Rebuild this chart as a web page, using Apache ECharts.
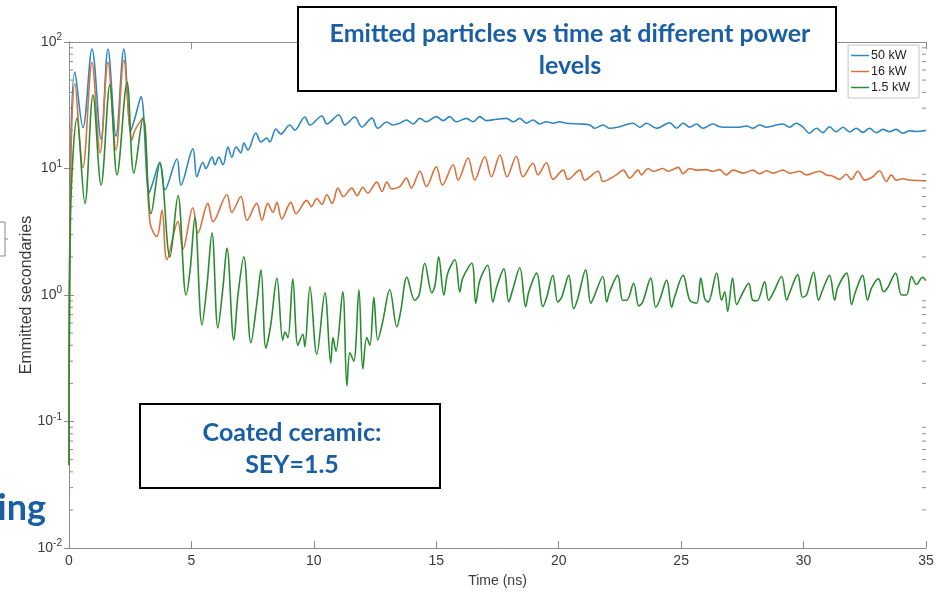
<!DOCTYPE html>
<html>
<head>
  <meta charset="utf-8">
  <title>Emitted particles vs time</title>
  <script src="https://cdn.jsdelivr.net/npm/echarts@6.0.0/dist/echarts.min.js"></script>
  <style>
    html, body { margin: 0; padding: 0; background: #fff; }
    #main { width: 937px; height: 596px; }
  </style>
</head>
<body>
  <div id="main"></div>
  <script>
    // series names (legend)
    const seriesNames = ['50 kW', '16 kW', '1.5 kW'];

    // [time (ns), emitted secondaries], peaks and troughs
    const kw50 = [
      [0,0.045],[0.05,8],[0.24,58],[0.57,21],[0.94,88],[1.31,17],[1.59,88],[1.92,18],[2.24,88],[2.53,20],
      [2.69,25],[2.94,37],[3.27,6.4],[3.43,7.8],[3.71,11.2],[3.92,6.8],[4.41,11.9],[4.57,7.4],[5.06,14.3],[5.22,8.6],
      [5.47,11.2],[5.59,10.0],[5.84,12.3],[5.96,10.7],[6.12,12.3],[6.29,10.7],[6.49,14.8],[6.65,12.3],[6.82,14.8],[7.02,13.3],
      [7.14,15.9],[7.31,14.0],[7.63,19.1],[7.84,16.2],[8.08,17.4],[8.2,16.2],[8.45,20.5],[8.65,18.7],[9.02,22.1],[9.22,20.1],
      [9.63,25.5],[9.84,22.1],[10.33,26.0],[10.53,22.5],[11.02,26.5],[11.27,22.1],[11.67,25.5],[11.96,21.3],[12.37,25.0],[12.61,20.8],
      [12.98,23.3],[13.22,22.1],[13.51,22.8],[13.78,24.2],[14.05,22.5],[14.33,24.9],[14.6,23.4],[15.0,25.7],[15.28,23.9],[15.55,25.7],
      [15.82,23.4],[16.23,24.9],[16.5,23.4],[16.78,25.7],[17.05,23.9],[17.46,24.5],[17.87,24.9],[18.14,23.4],[18.41,24.9],[18.68,22.8],
      [18.95,24.2],[19.22,22.5],[19.5,23.4],[19.77,22.8],[20.04,23.4],[20.31,22.8],[20.86,22.5],[21.27,22.1],[21.47,20.8],[21.81,22.1],
      [22.08,20.8],[22.49,21.4],[23.03,22.8],[23.31,21.2],[23.58,22.8],[23.99,20.8],[24.53,23.0],[24.81,20.8],[25.08,22.8],[25.35,21.2],
      [25.62,22.5],[25.89,20.8],[26.3,22.5],[26.57,21.4],[26.98,21.2],[27.39,21.2],[27.66,21.7],[27.93,20.8],[28.2,22.1],[28.48,21.2],
      [28.75,21.7],[29.16,22.5],[29.43,21.2],[29.7,22.8],[29.98,21.2],[30.24,19.0],[30.52,20.8],[30.79,19.2],[31.06,21.4],[31.33,19.5],
      [31.61,21.2],[31.88,19.5],[32.15,20.8],[32.42,19.3],[32.69,20.8],[32.97,19.2],[33.24,20.4],[33.51,19.5],[33.78,20.4],[34.06,19.0],
      [34.33,19.9],[34.6,19.6],[35,20.0]
    ];

    const kw16 = [
      [0,0.045],[0.05,6],[0.24,47],[0.57,10.2],[0.94,69],[1.27,13.3],[1.59,69],[1.92,14],[2.24,72],[2.57,16.8],
      [2.69,20],[3.02,25],[3.31,3.7],[3.59,2.9],[3.8,4.7],[4.0,1.9],[4.45,3.8],[4.65,2.3],[5.06,4.9],[5.27,3.1],
      [5.67,5.3],[5.88,3.8],[6.45,6.2],[6.65,4.5],[7.02,6.0],[7.27,3.9],[7.67,5.3],[7.88,3.9],[8.12,5.3],[8.33,4.5],
      [8.49,5.4],[8.69,4.0],[9.06,5.4],[9.27,4.4],[9.71,5.6],[9.9,5.0],[10.12,5.8],[10.33,5.2],[10.53,6.2],[10.75,5.3],
      [10.98,7.0],[11.2,6.0],[11.55,7.0],[11.76,6.1],[12.0,7.1],[12.2,6.4],[12.57,7.8],[12.78,6.6],[12.98,7.8],[13.18,6.9],
      [13.51,7.2],[13.78,8.4],[13.98,7.0],[14.33,9.5],[14.6,7.2],[15.0,10.3],[15.25,7.4],[15.69,10.7],[15.89,8.1],[16.3,12.1],
      [16.57,8.1],[16.98,12.4],[17.25,8.6],[17.6,12.8],[17.89,8.6],[18.27,12.5],[18.54,8.6],[18.95,11.0],[19.15,8.9],[19.5,11.1],
      [19.77,8.2],[20.18,9.7],[20.38,8.2],[20.86,9.7],[21.06,8.1],[21.61,9.5],[21.81,7.9],[22.35,8.9],[22.63,9.7],[22.9,8.4],
      [23.24,9.7],[23.38,8.9],[23.65,10.0],[23.86,9.5],[24.26,10.0],[24.47,9.5],[24.88,10.2],[25.08,9.1],[25.35,10.0],[25.62,9.7],
      [26.03,9.8],[26.3,9.5],[26.57,9.8],[26.84,8.9],[27.12,9.7],[27.53,9.2],[27.93,9.7],[28.2,9.1],[28.48,9.6],[28.75,9.2],
      [29.16,9.7],[29.43,9.2],[29.84,9.5],[30.11,8.9],[30.66,9.5],[30.93,8.9],[31.2,8.7],[31.47,8.2],[31.74,9.0],[31.95,8.2],
      [32.22,9.5],[32.5,8.1],[32.83,8.6],[33.1,9.6],[33.38,7.9],[33.58,8.9],[33.78,8.1],[34.06,8.3],[34.33,8.1],[35,8.0]
    ];

    const kw15 = [
      [0,0.045],[0.06,4],[0.33,25],[0.65,5.3],[0.98,38],[1.31,7.4],[1.67,46],[1.96,8.9],[2.37,48],[2.65,9.2],
      [3.02,25],[3.35,4.4],[3.71,11],[4.12,2.0],[4.45,6.1],[4.78,1.0],[4.95,1.6],[5.14,4.1],[5.43,0.58],[5.63,1.16],
      [5.84,3.1],[6.08,0.55],[6.29,1.16],[6.45,2.35],[6.73,0.44],[6.9,1.0],[7.14,2.0],[7.43,0.42],[7.67,0.86],[7.84,1.58],
      [8.04,0.38],[8.24,0.58],[8.49,1.36],[8.73,0.44],[8.82,0.51],[8.94,0.46],[9.14,1.34],[9.35,0.40],[9.55,0.49],[9.63,0.39],
      [9.84,1.16],[10.12,0.34],[10.45,1.04],[10.69,0.29],[10.78,0.46],[10.9,0.36],[11.18,1.06],[11.35,0.19],[11.47,0.35],[11.63,0.30],
      [11.84,1.1],[12.0,0.26],[12.16,0.46],[12.29,0.40],[12.45,0.96],[12.61,0.44],[12.8,0.6],[13.1,1.1],[13.39,0.56],[13.55,0.75],
      [13.8,1.38],[14.12,0.91],[14.3,1.0],[14.53,1.78],[14.82,1.04],[14.95,1.2],[15.1,2.0],[15.31,1.0],[15.47,1.49],[15.76,1.9],
      [15.96,1.06],[16.08,1.36],[16.45,1.78],[16.61,0.86],[16.78,1.31],[17.1,1.72],[17.31,0.88],[17.47,1.16],[17.76,1.61],[17.96,0.88],
      [18.12,1.1],[18.41,1.64],[18.65,0.81],[18.78,1.06],[19.1,1.49],[19.35,0.81],[19.51,0.96],[19.76,1.43],[19.96,0.88],[20.12,0.96],
      [20.41,1.43],[20.61,0.78],[20.78,0.94],[21.1,1.58],[21.31,0.86],[21.47,1.0],[21.8,1.40],[21.96,0.88],[22.08,1.06],[22.41,1.43],
      [22.61,0.91],[22.78,0.91],[23.06,1.24],[23.27,0.82],[23.43,0.88],[23.76,1.36],[23.96,0.80],[24.12,0.91],[24.41,1.31],[24.61,0.80],
      [24.73,0.96],[25.08,1.43],[25.35,0.91],[25.63,0.86],[25.8,1.36],[25.96,0.94],[26.1,0.88],[26.45,1.49],[26.65,0.91],[26.78,1.06],
      [26.9,0.74],[27.1,1.36],[27.27,0.84],[27.47,1.0],[27.76,1.24],[27.92,0.91],[28.1,0.9],[28.41,1.27],[28.57,0.91],[28.78,1.06],
      [29.1,1.40],[29.31,0.91],[29.43,1.04],[29.76,1.45],[29.96,0.96],[30.12,1.0],[30.41,1.52],[30.61,0.91],[30.78,1.1],[31.06,1.43],
      [31.27,0.91],[31.39,1.14],[31.76,1.49],[31.96,0.84],[32.12,1.06],[32.41,1.43],[32.61,0.91],[32.78,1.14],[33.06,1.34],[33.27,1.06],
      [33.43,1.14],[33.76,1.49],[34.0,1.0],[34.2,1.0],[34.41,1.40],[34.61,1.21],[34.86,1.38],[35,1.3]
    ];

    // minor ticks of the log axis (2..9 x each decade)
    const minorTicks = [
      0.02,0.03,0.04,0.05,0.06,0.07,0.08,0.09,
      0.2,0.3,0.4,0.5,0.6,0.7,0.8,0.9,
      2,3,4,5,6,7,8,9,
      20,30,40,50,60,70,80,90
    ];

    const colors = ['#2f87c0', '#d8723f', '#2a8c30'];
    const axisColor = '#8c8c8c';
    const textColor = '#3a3a3a';
    const boxBlue = '#1a5ea3';
    const font = '"Liberation Sans", Arial, sans-serif';
    const boxFont = 'bold 25px Lato, "Open Sans", sans-serif';

    const chart = echarts.init(document.getElementById('main'));

    const supLabel = v => {
      const e = Math.round(Math.log10(v));
      return '{b|10}{s|' + e + '}';
    };

    const option = {
      animation: false,
      backgroundColor: '#fff',
      textStyle: { fontFamily: font },
      grid: { left: 69, right: 11, top: 42, bottom: 48 },
      legend: {
        data: seriesNames,
        orient: 'vertical',
        right: 18,
        top: 45,
        icon: 'rect',
        itemWidth: 18,
        itemHeight: 1.5,
        itemGap: 3,
        padding: [4, 9, 4, 3],
        backgroundColor: '#fff',
        borderColor: '#c4c4c4',
        borderWidth: 1,
        textStyle: { fontSize: 12.5, color: '#222', fontFamily: font, padding: [0, 0, 0, -3] }
      },
      xAxis: [
        {
          type: 'value', min: 0, max: 35, interval: 5,
          name: 'Time (ns)', nameLocation: 'middle', nameGap: 26,
          nameTextStyle: { fontSize: 14, color: textColor, fontFamily: font },
          axisLine: { lineStyle: { color: axisColor } },
          axisTick: { inside: true, length: 7, lineStyle: { color: axisColor } },
          axisLabel: { fontSize: 14, color: textColor, margin: 6, fontFamily: font },
          splitLine: { show: false }
        },
        {
          type: 'value', min: 0, max: 35, interval: 5, position: 'top',
          axisLine: { lineStyle: { color: axisColor } },
          axisTick: { inside: true, length: 7, lineStyle: { color: axisColor } },
          axisLabel: { show: false },
          splitLine: { show: false }
        }
      ],
      yAxis: [
        {
          type: 'log', logBase: 10, min: 0.01, max: 100,
          name: 'Emmitted secondaries', nameLocation: 'middle', nameGap: 34,
          nameMoveOverlap: false,
          nameTextStyle: { fontSize: 16, color: textColor, fontFamily: font },
          axisLine: { show: true, lineStyle: { color: axisColor } },
          axisTick: { inside: true, length: 5, lineStyle: { color: axisColor } },
          axisLabel: {
            margin: 7,
            formatter: supLabel,
            rich: {
              b: { fontSize: 14, color: textColor, fontFamily: font },
              s: { fontSize: 10, color: textColor, fontFamily: font, padding: [0, 0, 9, 0] }
            }
          },
          splitLine: { show: false }
        },
        {
          type: 'log', logBase: 10, min: 0.01, max: 100, position: 'right',
          axisLine: { show: true, lineStyle: { color: axisColor } },
          axisTick: { inside: true, length: 5, lineStyle: { color: axisColor } },
          axisLabel: { show: false },
          splitLine: { show: false }
        }
      ],
      graphic: [
        {
          type: 'rect', z: 100,
          shape: { x: 298, y: 7, width: 538, height: 84 },
          style: { fill: '#fff', stroke: '#000', lineWidth: 2 }
        },
        {
          type: 'text', z: 101, x: 570, y: 34,
          style: { text: 'Emitted particles vs time at different power', font: boxFont, fill: boxBlue, align: 'center', verticalAlign: 'middle' }
        },
        {
          type: 'text', z: 101, x: 570, y: 66,
          style: { text: 'levels', font: boxFont, fill: boxBlue, align: 'center', verticalAlign: 'middle' }
        },
        {
          type: 'rect', z: 100,
          shape: { x: 140, y: 404, width: 300, height: 84 },
          style: { fill: '#fff', stroke: '#000', lineWidth: 2 }
        },
        {
          type: 'text', z: 101, x: 292, y: 433,
          style: { text: 'Coated ceramic:', font: boxFont, fill: boxBlue, align: 'center', verticalAlign: 'middle' }
        },
        {
          type: 'text', z: 101, x: 292, y: 465,
          style: { text: 'SEY=1.5', font: boxFont, fill: boxBlue, align: 'center', verticalAlign: 'middle' }
        },
        {
          type: 'text', z: 101, x: 46, y: 508,
          style: { text: 'ing', font: 'bold 36px Lato, "Open Sans", sans-serif', fill: boxBlue, align: 'right', verticalAlign: 'middle' }
        },
        {
          type: 'polyline', z: 101,
          shape: { points: [[0, 222], [5, 222], [5, 256], [0, 256]] },
          style: { stroke: '#888', lineWidth: 1, fill: null }
        },
        {
          type: 'line', z: 101,
          shape: { x1: 5, y1: 239, x2: 8, y2: 239 },
          style: { stroke: '#888', lineWidth: 1 }
        }
      ],
      series: [
        {
          type: 'custom',
          silent: true,
          xAxisIndex: 0,
          yAxisIndex: 0,
          data: minorTicks.map(v => [0, v]),
          renderItem: function (params, api) {
            const v = api.value(1);
            const l = api.coord([0, v]);
            const r = api.coord([35, v]);
            const st = { stroke: axisColor, lineWidth: 1 };
            return {
              type: 'group',
              children: [
                { type: 'line', shape: { x1: l[0], y1: l[1], x2: l[0] + 4, y2: l[1] }, style: st },
                { type: 'line', shape: { x1: r[0], y1: r[1], x2: r[0] - 4, y2: r[1] }, style: st }
              ]
            };
          }
        },
        {
          name: seriesNames[0], type: 'line', data: kw50, showSymbol: false, smooth: 0.35,
          lineStyle: { width: 1.6, color: colors[0] }, itemStyle: { color: colors[0] }
        },
        {
          name: seriesNames[1], type: 'line', data: kw16, showSymbol: false, smooth: 0.35,
          lineStyle: { width: 1.6, color: colors[1] }, itemStyle: { color: colors[1] }
        },
        {
          name: seriesNames[2], type: 'line', data: kw15, showSymbol: false, smooth: 0.35,
          lineStyle: { width: 1.6, color: colors[2] }, itemStyle: { color: colors[2] }
        }
      ]
    };

    chart.setOption(option);
  </script>
</body>
</html>
